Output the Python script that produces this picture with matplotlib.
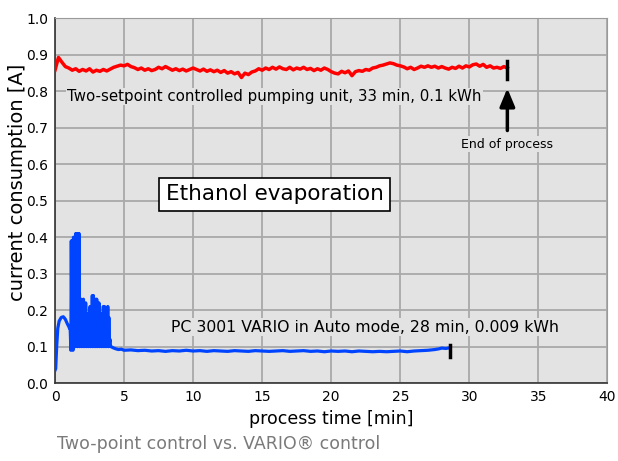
import numpy as np
import matplotlib
matplotlib.use("Agg")
import matplotlib.pyplot as plt

# two-setpoint unit, sampled every 0.25 min
red_t = np.arange(0, 33, 0.25)
red_v = [
    0.858, 0.893, 0.880, 0.868, 0.864, 0.858, 0.862, 0.855, 0.860, 0.856,
    0.862, 0.853, 0.858, 0.855, 0.860, 0.856, 0.861, 0.866, 0.869, 0.872,
    0.870, 0.874, 0.868, 0.865, 0.860, 0.864, 0.858, 0.862, 0.857, 0.860,
    0.866, 0.862, 0.868, 0.863, 0.858, 0.862, 0.857, 0.861, 0.856, 0.860,
    0.864, 0.860, 0.856, 0.861, 0.855, 0.859, 0.854, 0.858, 0.852, 0.857,
    0.850, 0.854, 0.848, 0.852, 0.838, 0.850, 0.846, 0.853, 0.856, 0.862,
    0.858, 0.864, 0.860, 0.866, 0.861, 0.867, 0.862, 0.860, 0.866, 0.859,
    0.864, 0.861, 0.866, 0.860, 0.863, 0.857, 0.862, 0.858, 0.864, 0.860,
    0.854, 0.850, 0.848, 0.855, 0.851, 0.856, 0.843, 0.854, 0.857, 0.855,
    0.860, 0.858, 0.864, 0.866, 0.870, 0.872, 0.875, 0.878, 0.876, 0.872,
    0.870, 0.867, 0.862, 0.866, 0.860, 0.864, 0.869, 0.866, 0.870, 0.866,
    0.869, 0.864, 0.868, 0.864, 0.861, 0.866, 0.863, 0.869, 0.864, 0.870,
    0.867, 0.873, 0.875, 0.869, 0.874, 0.866, 0.870, 0.864, 0.866, 0.863,
    0.868, 0.864,
]
red_end = 32.75

# VARIO pump: start-up, control spikes, steady state
blue_t = [
    0.0, 0.05, 0.12, 0.2, 0.3, 0.45, 0.6, 0.75, 0.9, 1.0, 1.05,
    1.10, 1.15, 1.18, 1.22, 1.26, 1.30, 1.34, 1.38, 1.42, 1.46, 1.50, 1.54,
    1.58, 1.62, 1.66, 1.70, 1.74, 1.78, 1.82, 1.86, 1.90, 1.94, 1.98, 2.02,
    2.06, 2.10, 2.14, 2.18, 2.22, 2.26, 2.30, 2.34, 2.38, 2.42, 2.46, 2.50,
    2.54, 2.58, 2.62, 2.66, 2.70, 2.74, 2.78, 2.82, 2.86, 2.90, 2.94, 2.98,
    3.02, 3.06, 3.10, 3.14, 3.18, 3.22, 3.26, 3.30, 3.34, 3.38, 3.42, 3.46,
    3.50, 3.54, 3.58, 3.62, 3.66, 3.70, 3.74, 3.78, 3.82, 3.86, 3.90, 3.94,
    3.98, 4.02,
    4.06, 4.2, 4.4, 4.6, 4.8, 5.0, 5.5, 6.0, 6.5, 7.0, 7.5, 8.0, 8.5, 9.0,
    9.5, 10.0, 10.5, 11.0, 11.5, 12.0, 12.5, 13.0, 13.5, 14.0, 14.5, 15.0,
    15.5, 16.0, 16.5, 17.0, 17.5, 18.0, 18.5, 19.0, 19.5, 20.0, 20.5, 21.0,
    21.5, 22.0, 22.5, 23.0, 23.5, 24.0, 24.5, 25.0, 25.5, 26.0, 26.5, 27.0,
    27.5, 27.8, 28.0, 28.3, 28.6,
]
blue_v = [
    0.035, 0.04, 0.10, 0.15, 0.17, 0.18, 0.182, 0.175, 0.162, 0.155, 0.15,
    0.15, 0.09, 0.39, 0.12, 0.39, 0.09, 0.40, 0.11, 0.40, 0.10, 0.41, 0.12,
    0.41, 0.10, 0.41, 0.11, 0.41, 0.10, 0.23, 0.11, 0.23, 0.10, 0.15, 0.11,
    0.23, 0.10, 0.17, 0.11, 0.22, 0.10, 0.19, 0.11, 0.14, 0.10, 0.18, 0.11,
    0.21, 0.10, 0.15, 0.11, 0.24, 0.10, 0.24, 0.11, 0.17, 0.10, 0.23, 0.11,
    0.23, 0.10, 0.16, 0.11, 0.22, 0.10, 0.14, 0.11, 0.19, 0.10, 0.13, 0.11,
    0.21, 0.10, 0.21, 0.11, 0.17, 0.10, 0.20, 0.11, 0.21, 0.10, 0.18, 0.11,
    0.12, 0.10,
    0.100, 0.097, 0.094, 0.092, 0.093, 0.090, 0.091, 0.089, 0.090, 0.088,
    0.089, 0.087, 0.089, 0.088, 0.090, 0.088, 0.089, 0.087, 0.089, 0.088,
    0.087, 0.089, 0.088, 0.087, 0.089, 0.088, 0.087, 0.088, 0.089, 0.087,
    0.088, 0.089, 0.087, 0.088, 0.086, 0.088, 0.087, 0.088, 0.086, 0.088,
    0.087, 0.086, 0.087, 0.086, 0.087, 0.088, 0.086, 0.088, 0.089, 0.090,
    0.092, 0.094, 0.096, 0.095, 0.097,
]
blue_end = 28.6

x_ticks = [0, 5, 10, 15, 20, 25, 30, 35, 40]
y_ticks = [0.0, 0.1, 0.2, 0.3, 0.4, 0.5, 0.6, 0.7, 0.8, 0.9, 1.0]

plt.rcParams["font.family"] = ["DejaVu Sans"]
bg = "#e3e3e3"

fig = plt.figure(figsize=(6.18, 4.61), dpi=100)
ax = fig.add_axes([0.089, 0.169, 0.894, 0.791])
ax.set_facecolor(bg)

ax.plot(red_t, red_v, color="#ff0000", lw=2.5, zorder=3)
ax.plot(blue_t, blue_v, color="#0044ff", lw=2.3, zorder=3)

# end-of-process markers
ax.plot([red_end, red_end], [0.833, 0.882], color="black", lw=2.5, zorder=4)
ax.plot([blue_end, blue_end], [0.072, 0.104], color="black", lw=2.5, zorder=4)
ax.annotate("", xy=(red_end, 0.816), xytext=(red_end, 0.685),
            arrowprops=dict(arrowstyle="-|>,head_length=0.6,head_width=0.25",
                            color="black", lw=2.5, mutation_scale=18), zorder=4)

box = dict(facecolor=bg, edgecolor="none", pad=1)
ax.text(0.9, 0.786, "Two-setpoint controlled pumping unit, 33 min, 0.1 kWh",
        fontsize=10.8, va="center", ha="left", bbox=box, zorder=2)
ax.text(8.4, 0.153, "PC 3001 VARIO in Auto mode, 28 min, 0.009 kWh",
        fontsize=11.3, va="center", ha="left", bbox=box, zorder=2)
ax.text(red_end, 0.655, "End of process", fontsize=9, va="center",
        ha="center", bbox=box, zorder=2)
ax.text(15.9, 0.518, "Ethanol evaporation", fontsize=15.5, va="center",
        ha="center", zorder=5,
        bbox=dict(facecolor="white", edgecolor="black", lw=1.2,
                  boxstyle="square,pad=0.3"))

ax.set_xlim(0, 40)
ax.set_ylim(0, 1.0)
ax.set_xticks(x_ticks)
ax.set_yticks(y_ticks)
ax.set_yticklabels([f"{v:.1f}" for v in y_ticks])
ax.tick_params(length=0, labelsize=10, pad=5)
ax.grid(True, color="#a9a9a9", lw=1.3, zorder=1)
ax.set_axisbelow(True)
for side in ["top", "right"]:
    ax.spines[side].set_color("#9a9a9a")
for side in ["left", "bottom"]:
    ax.spines[side].set_color("#333333")
    ax.spines[side].set_linewidth(1.2)

ax.set_xlabel("process time [min]", fontsize=12.5, labelpad=4)
ax.set_ylabel("current consumption [A]", fontsize=14, labelpad=2)
ax.yaxis.set_label_coords(-0.05, 0.55)

fig.text(0.092, 0.018, "Two-point control vs. VARIO\u00ae control",
         fontsize=12.5, color="#7a7a7a", ha="left", va="bottom")

fig.savefig("out.png", dpi=100)
